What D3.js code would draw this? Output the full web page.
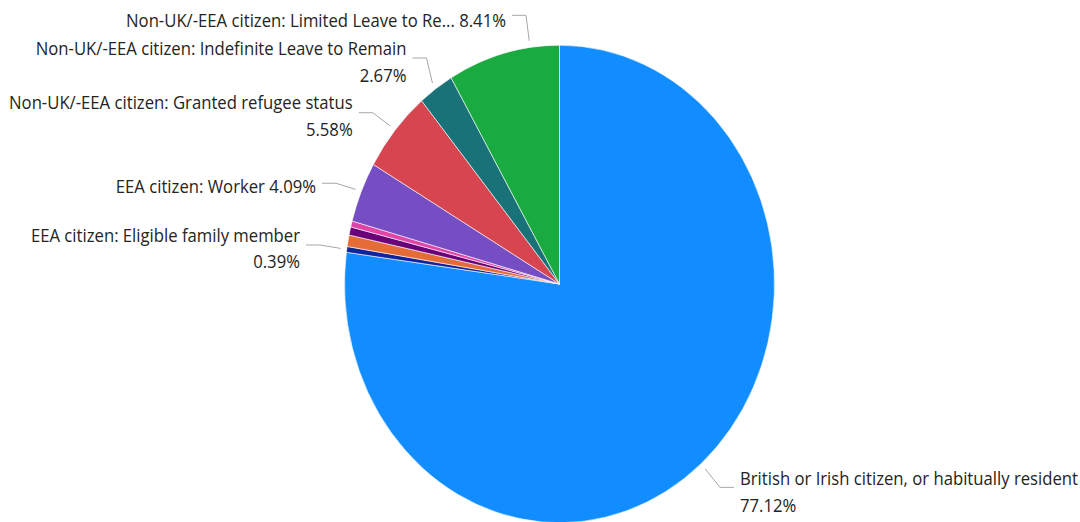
<!DOCTYPE html>
<html>
<head>
<meta charset="utf-8">
<script src="https://cdn.jsdelivr.net/npm/d3@7"></script>
<style>
  html, body { margin: 0; padding: 0; background: #fff; }
  svg { display: block; }
</style>
</head>
<body>
<svg id="chart" width="1080" height="522"></svg>
<script>
// Share of claimants by residency status
const categories = [
  "British or Irish citizen, or habitually resident",
  "EEA citizen: Eligible family member",
  "EEA citizen: Self-employed",
  "EEA citizen: Student",
  "EEA citizen: Self-sufficient",
  "EEA citizen: Worker",
  "Non-UK/-EEA citizen: Granted refugee status",
  "Non-UK/-EEA citizen: Indefinite Leave to Remain",
  "Non-UK/-EEA citizen: Limited Leave to Remain"
];
const values = [77.12, 0.39, 0.78, 0.55, 0.41, 4.09, 5.58, 2.67, 8.41];
const colors = ["#118DFF", "#12239E", "#E66C37", "#6B007B", "#E044A7",
                "#744EC2", "#D64550", "#197278", "#1AAB40"];

// Which slices carry a label and how each label is laid out
// (drawing units; the whole drawing is stretched vertically by yStretch)
const labelLayout = [
  { i: 0, side: "right", x: 740,   y: 436.7, leaderY: 438.8, t: 0.5,  split: true  },
  { i: 1, side: "left",  x: 300,   y: 217.6, leaderY: 220.6, t: 0.5,  split: true  },
  { i: 5, side: "left",  x: 316,   y: 174.1, leaderY: 165.0, t: 0.5,  split: false },
  { i: 6, side: "left",  x: 352.7, y: 98.4,  leaderY: 101.5, t: 0.5,  split: true  },
  { i: 7, side: "left",  x: 406.5, y: 49.5,  leaderY: 52.2,  t: 0.5,  split: true  },
  { i: 8, side: "left",  x: 506,   y: 24.6,  leaderY: 13.8,  t: 0.74, split: false }
];

const W = 1080, H = 522;
const yStretch = 522 / 470;
const cx = 559.5, cy = 255.7, R = 215;
const lineGap = 23.9;
const maxNameLen = 40;

const fmtPct = v => d3.format(".2f")(v) + "%";

const svg = d3.select("#chart");
const root = svg.append("g").attr("transform", `scale(1, ${yStretch})`);

const data = categories.map((c, i) => ({ name: c, value: values[i], color: colors[i] }));

const pie = d3.pie().sort(null).value(d => d.value);
const arcs = pie(data);
const arc = d3.arc().innerRadius(0).outerRadius(R);

const pieG = root.append("g").attr("transform", `translate(${cx},${cy})`);
pieG.selectAll("path")
  .data(arcs)
  .join("path")
  .attr("d", arc)
  .attr("fill", d => d.data.color)
  .attr("stroke", "#ffffff")
  .attr("stroke-width", 0.6)
  .attr("vector-effect", "non-scaling-stroke");

// Labels with elbow leader lines
const labelG = root.append("g")
  .attr("font-family", "'Segoe UI', 'Open Sans', 'Noto Sans', sans-serif")
  .attr("font-size", 16.7)
  .attr("fill", "#252423");

const rLead = R + 6;
labelLayout.forEach(L => {
  const a = arcs[L.i];
  const ang = a.startAngle + (a.endAngle - a.startAngle) * L.t;
  const px = cx + rLead * Math.sin(ang);
  const py = cy - rLead * Math.cos(ang);
  const dir = L.side === "left" ? 1 : -1;
  const endX = L.x + dir * 6;
  const elbowX = L.x + dir * 20;

  root.append("path")
    .attr("d", `M${endX},${L.leaderY}L${elbowX},${L.leaderY}L${px},${py}`)
    .attr("fill", "none")
    .attr("stroke", "#a8a8a8")
    .attr("stroke-width", 1)
    .attr("vector-effect", "non-scaling-stroke");

  let name = a.data.name;
  const pct = fmtPct(a.data.value);
  if (!L.split && name.length > maxNameLen) name = name.slice(0, maxNameLen) + "...";
  const lines = L.split ? [name, pct] : [name + " " + pct];

  const text = labelG.append("text")
    .attr("text-anchor", L.side === "left" ? "end" : "start");
  lines.forEach((ln, k) => {
    text.append("tspan")
      .attr("x", L.x)
      .attr("y", L.y + k * lineGap)
      .text(ln);
  });
});
</script>
</body>
</html>
